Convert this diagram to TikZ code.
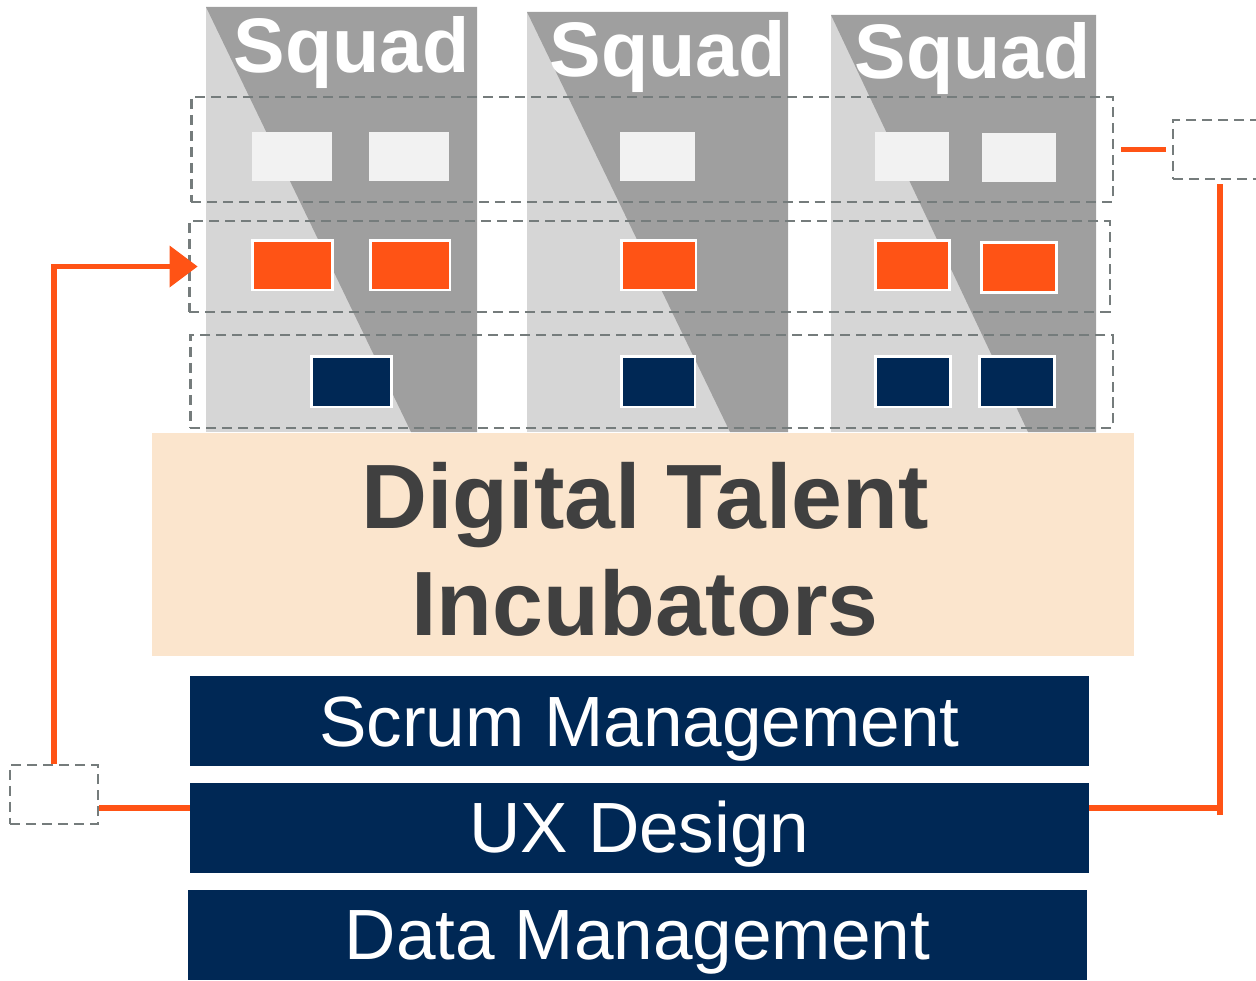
\documentclass[tikz,border=0pt]{standalone}
\usepackage{fontspec}
\setmainfont{Liberation Sans}
\usetikzlibrary{arrows.meta}

\definecolor{squadlight}{HTML}{D6D6D6}
\definecolor{squaddark}{HTML}{9F9F9F}
\definecolor{slotgrey}{HTML}{F2F2F2}
\definecolor{accent}{HTML}{FF5315}
\definecolor{navy}{HTML}{002855}
\definecolor{peach}{HTML}{FBE5CD}
\definecolor{dashgrey}{HTML}{757C7C}
\definecolor{darktext}{HTML}{404040}

\begin{document}
\begin{tikzpicture}[x=0.02cm,y=-0.02cm,
  dash box/.style={draw=dashgrey,line width=1.6pt,dash pattern=on 5.7pt off 3.4pt,inner sep=0},
  row box/.style={dash box,minimum width=18.44cm},
  slot/.style={fill=slotgrey,inner sep=0,minimum width=1.6cm,minimum height=1cm},
  orange slot/.style={slot,fill=accent,draw=white,line width=1.7pt},
  navy slot/.style={slot,fill=navy,draw=white,line width=1.7pt},
  squad label/.style={text=white,font=\bfseries\fontsize{44}{44}\selectfont,anchor=base,inner sep=0},
  bar/.style={fill=navy,text=white,font=\fontsize{40.5}{40.5}\selectfont,minimum width=17.98cm,
    minimum height=1.8cm,text height=29pt,text depth=0pt,inner sep=0},
  link/.style={draw=accent,line width=3.4pt}]

  \useasboundingbox (0,0) rectangle (1256,980);
  \clip (0,0) rectangle (1256,980);

  % squad columns
  \fill[squadlight] (206,7) rectangle (477,432);
  \fill[squaddark] (206,7) -- (477,7) -- (477,432) -- (411,432) -- cycle;
  \fill[squadlight] (527,12) rectangle (788,432);
  \fill[squaddark] (527,12) -- (788,12) -- (788,432) -- (730,432) -- cycle;
  \fill[squadlight] (831,15) rectangle (1096,432);
  \fill[squaddark] (831,15) -- (1096,15) -- (1096,432) -- (1028,432) -- cycle;

  \node[squad label] (sq1) at (352,72) {Squad};
  \node[squad label] (sq2) at (668,76) {Squad};
  \node[squad label] (sq3) at (973,79) {Squad};

  % roles in each squad
  \node[slot] (a1) at (292,156.5) {};
  \node[slot] (a2) at (409,156.5) {};
  \node[slot,minimum width=1.5cm] (a3) at (657.5,156.5) {};
  \node[slot,minimum width=1.48cm] (a4) at (912,156.5) {};
  \node[slot,minimum width=1.48cm] (a5) at (1019,157.5) {};

  \node[orange slot] (b1) at (292.5,265) {};
  \node[orange slot] (b2) at (410,265) {};
  \node[orange slot,minimum width=1.5cm] (b3) at (658.5,265) {};
  \node[orange slot,minimum width=1.48cm] (b4) at (912,265) {};
  \node[orange slot,minimum width=1.5cm] (b5) at (1018.5,267.5) {};

  \node[navy slot,minimum height=1.02cm] (c1) at (351.5,381.5) {};
  \node[navy slot,minimum width=1.48cm,minimum height=1.02cm] (c2) at (658,381.5) {};
  \node[navy slot,minimum width=1.5cm,minimum height=1.02cm] (c3) at (912.5,381.5) {};
  \node[navy slot,minimum width=1.5cm,minimum height=1.02cm] (c4) at (1016.5,381.5) {};

  % chapters across the squads
  \node[row box,minimum height=2.1cm] (row1) at (652,149.5) {};
  \node[row box,minimum height=1.82cm,minimum width=18.42cm] (row2) at (649.5,266.5) {};
  \node[row box,minimum height=1.86cm,minimum width=18.46cm] (row3) at (651.5,381.5) {};

  % incubator and capabilities
  \node[fill=peach,minimum width=19.64cm,minimum height=4.46cm,inner sep=0] (dti) at (643,544.5) {};
  \node[text=darktext,font=\bfseries\fontsize{52}{61}\selectfont,align=center,inner sep=0]
    (dtitext) at (645,549) {Digital Talent\\Incubators};

  \node[bar] (scrum) at (639.5,721) {Scrum Management};
  \node[bar] (ux) at (639.5,827.5) {UX Design};
  \node[bar] (data) at (637.5,934.5) {Data Management};

  % feedback loop
  \node[dash box,minimum width=1.76cm,minimum height=1.18cm] (lbox) at (54,794.5) {};
  \node[dash box,minimum width=1.88cm,minimum height=1.18cm] (rbox) at (1220,149.5) {};
  \coordinate (lj) at (0,808);
  \coordinate (rj) at (1220,808);

  \draw[link] (ux.west |- lj) -- (lbox.east |- lj);
  \draw[link,-{Triangle[length=16pt,width=23pt]}] (lbox.north) |- ([xshift=0.2cm]row2.west);
  \draw[link] (ux.east |- rj) -- (rj);
  \draw[link] ([yshift=-0.14cm]rj) -- ([yshift=-0.08cm]rbox.south);
  \draw[link,shorten <=0.14cm,shorten >=0.12cm] (row1.east) -- (rbox.west);
\end{tikzpicture}
\end{document}
